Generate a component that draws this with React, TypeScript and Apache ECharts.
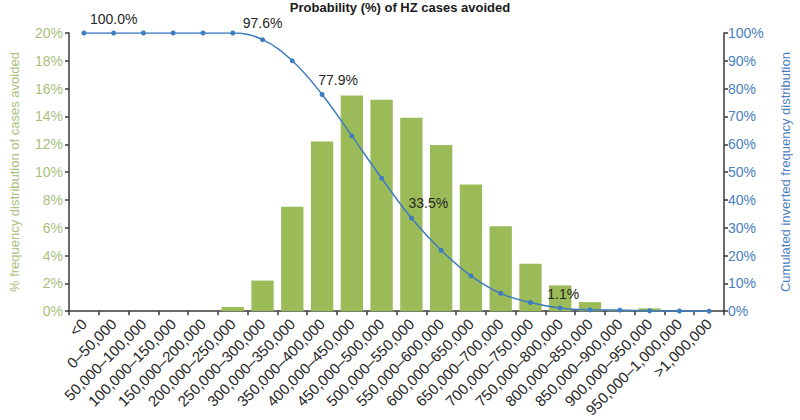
import React, { useEffect, useRef } from "react";
import * as echarts from "echarts";

const categories = [
  "<0", "0–50,000", "50,000–100,000", "100,000–150,000", "150,000–200,000",
  "200,000–250,000", "250,000–300,000", "300,000–350,000", "350,000–400,000",
  "400,000–450,000", "450,000–500,000", "500,000–550,000", "550,000–600,000",
  "600,000–650,000", "650,000–700,000", "700,000–750,000", "750,000–800,000",
  "800,000–850,000", "850,000–900,000", "900,000–950,000", "950,000–1,000,000",
  ">1,000,000",
];

const frequency = [0, 0, 0, 0, 0, 0.3, 2.2, 7.5, 12.2, 15.5, 15.2, 13.9, 11.95, 9.1, 6.1, 3.4, 1.85, 0.65, 0.1, 0.2, 0, 0];

const cumulative = [100, 100, 100, 100, 100, 100, 97.6, 90, 77.9, 63, 47.8, 33.5, 21.9, 12.7, 6.4, 3.1, 1.1, 0.45, 0.35, 0.15, 0.05, 0];

// indices of labelled points and their label offsets [dx, dy]
const labelledPoints = [1, 6, 8, 11, 16];
const labelOffsets: Record<number, number[]> = {
  1: [0, 0],
  6: [0, -2],
  8: [16, 0],
  11: [17, 0],
  16: [3, 0],
};

const leftTicks = { min: 0, max: 20, interval: 2 };
const rightTicks = { min: 0, max: 100, interval: 10 };

const GREEN = "#9bbb59";
const GREEN_TEXT = "#a9c07c";
const BLUE = "#3f7cbf";
const BLUE_TEXT = "#4a80bf";
const AXIS = "#3a3a3a";
const FONT = "Liberation Sans, Arial, sans-serif";

export default function App() {
  const ref = useRef<HTMLDivElement>(null);
  useEffect(() => {
    if (!ref.current) return;
    const chart = echarts.init(ref.current, null, { renderer: "svg" });
    const lineData = cumulative.map((v, i) => {
      if (labelledPoints.includes(i)) {
        return {
          value: v,
          label: {
            show: true,
            position: "top",
            distance: 5,
            offset: labelOffsets[i],
            formatter: v.toFixed(1) + "%",
            fontSize: 14,
            color: "#262626",
            fontFamily: FONT,
          },
        };
      }
      return v;
    });
    chart.setOption({
      animation: false,
      textStyle: { fontFamily: FONT },
      title: {
        text: "Probability (%) of HZ cases avoided",
        left: 395,
        textAlign: "center",
        top: 0,
        padding: [1, 5, 5, 5],
        textStyle: { fontSize: 13, fontWeight: "bold", color: "#1a1a1a", fontFamily: FONT },
      },
      grid: { left: 57, right: 67, top: 33, bottom: 107 },
      xAxis: {
        type: "category",
        data: categories,
        axisLine: { lineStyle: { color: AXIS, width: 1.5 } },
        axisTick: { show: true, length: 4, lineStyle: { color: AXIS, width: 1.5 } },
        axisLabel: {
          rotate: 45,
          interval: 0,
          fontSize: 15,
          color: "#262626",
          fontFamily: FONT,
          margin: 10,
        },
      },
      yAxis: [
        {
          type: "value",
          min: leftTicks.min,
          max: leftTicks.max,
          interval: leftTicks.interval,
          position: "left",
          name: "% frequency distribution of cases avoided",
          nameLocation: "middle",
          nameGap: 48,
          nameTextStyle: { color: GREEN_TEXT, fontSize: 13, fontFamily: FONT },
          axisLine: { show: true, lineStyle: { color: AXIS, width: 1.5 } },
          axisTick: { show: true, length: 4, lineStyle: { color: AXIS, width: 1.5 } },
          axisLabel: { formatter: "{value}%", fontSize: 14, color: GREEN_TEXT, margin: 6, fontFamily: FONT },
          splitLine: { show: false },
        },
        {
          type: "value",
          min: rightTicks.min,
          max: rightTicks.max,
          interval: rightTicks.interval,
          position: "right",
          name: "Cumulated inverted frequency distribution",
          nameLocation: "middle",
          nameGap: 55,
          nameRotate: 90,
          nameTextStyle: { color: BLUE_TEXT, fontSize: 13, fontFamily: FONT },
          axisLine: { show: true, lineStyle: { color: AXIS, width: 1.5 } },
          axisTick: { show: true, length: 4, lineStyle: { color: AXIS, width: 1.5 } },
          axisLabel: { formatter: "{value}%", fontSize: 14, color: BLUE_TEXT, margin: 4, fontFamily: FONT },
          splitLine: { show: false },
        },
      ],
      series: [
        {
          type: "bar",
          yAxisIndex: 0,
          data: frequency,
          barWidth: "75%",
          itemStyle: { color: GREEN },
        },
        {
          type: "line",
          yAxisIndex: 1,
          data: lineData,
          smooth: 0.4,
          symbol: "circle",
          symbolSize: 5,
          lineStyle: { color: BLUE, width: 1.5 },
          itemStyle: { color: BLUE },
        },
      ],
    });
    return () => chart.dispose();
  }, []);
  return (
    <div
      ref={ref}
      style={{ position: "absolute", left: 0, top: 0, width: 800, height: 420 }}
    />
  );
}
